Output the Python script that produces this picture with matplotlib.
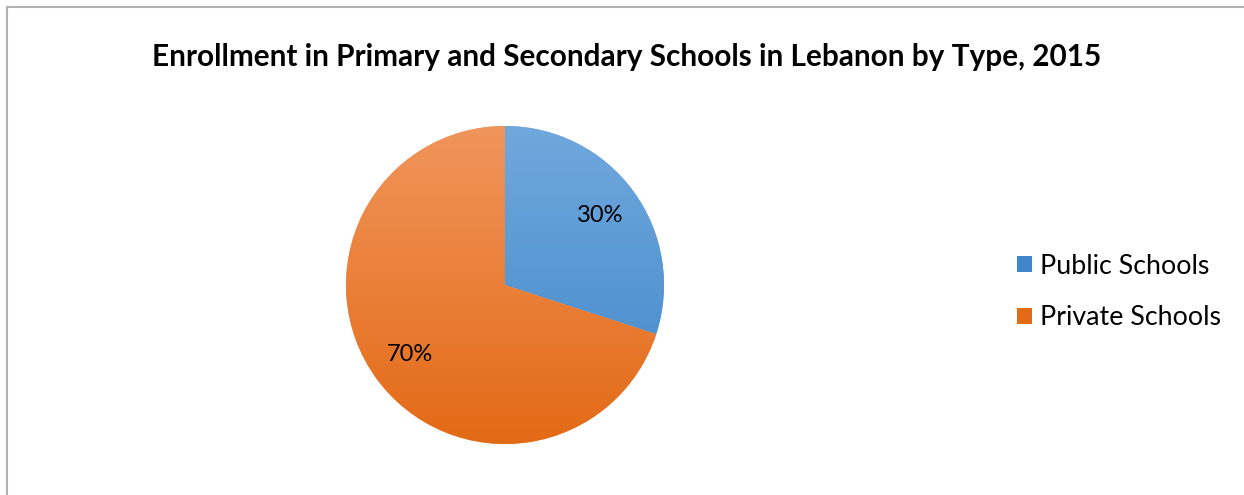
import numpy as np
import matplotlib.pyplot as plt
from matplotlib.patches import Patch
from matplotlib.lines import Line2D
from matplotlib.colors import to_rgb

labels = ['Public Schools', 'Private Schools']
shares = [30, 70]
top_colors = ['#70A8DC', '#F1955C']
bottom_colors = ['#3F86CB', '#E36A16']
title = 'Enrollment in Primary and Secondary Schools in Lebanon by Type, 2015'

plt.rcParams['font.family'] = ['Lato', 'DejaVu Sans']

fig = plt.figure(figsize=(12.44, 4.95), dpi=100)
W, H = 1244, 495

# outer chart border (only top and left edges fall inside the image)
fig.add_artist(Line2D([7 / W, 1], [1 - 7 / H, 1 - 7 / H], transform=fig.transFigure,
                      color='#b3b3b3', linewidth=1.5))
fig.add_artist(Line2D([7 / W, 7 / W], [0, 1 - 7 / H], transform=fig.transFigure,
                      color='#b3b3b3', linewidth=1.5))

cx, cy, r = 505, 285, 159
ax = fig.add_axes([(cx - r) / W, (H - cy - r) / H, 2 * r / W, 2 * r / H])

wedges, texts, autotexts = ax.pie(
    shares, colors=top_colors, startangle=90, counterclock=False,
    autopct='%1.0f%%', pctdistance=0.74,
    wedgeprops=dict(linewidth=0),
    textprops=dict(fontsize=17, color='black'))

# vertical gradient inside each slice
for w, c1, c2 in zip(wedges, top_colors, bottom_colors):
    t = np.linspace(0, 1, 256)[:, None]
    a, b = np.array(to_rgb(c1)), np.array(to_rgb(c2))
    grad = (a[None, :] * (1 - t) + b[None, :] * t)[:, None, :]
    grad = np.repeat(grad, 2, axis=1)
    im = ax.imshow(grad, extent=(-1, 1, -1, 1), origin='upper',
                   aspect='auto', zorder=w.get_zorder() + 0.1)
    im.set_clip_path(w)

for t in autotexts:
    t.set_zorder(5)

ax.set_xlim(-1, 1)
ax.set_ylim(-1, 1)
ax.set_aspect('auto')
ax.axis('off')

fig.text(627 / W, 1 - 57 / H, title, ha='center', va='center',
         fontsize=21.4, fontweight='bold')

handles = [Patch(facecolor=c, edgecolor='none') for c in bottom_colors]
fig.legend(handles, labels, loc='center left',
           bbox_to_anchor=(1017 / W, 1 - 292 / H), frameon=False,
           borderpad=0, borderaxespad=0,
           fontsize=19.3, handlelength=0.56, handleheight=0.56,
           handletextpad=0.3, labelspacing=1.0)

fig.savefig('out.png', dpi=100)
